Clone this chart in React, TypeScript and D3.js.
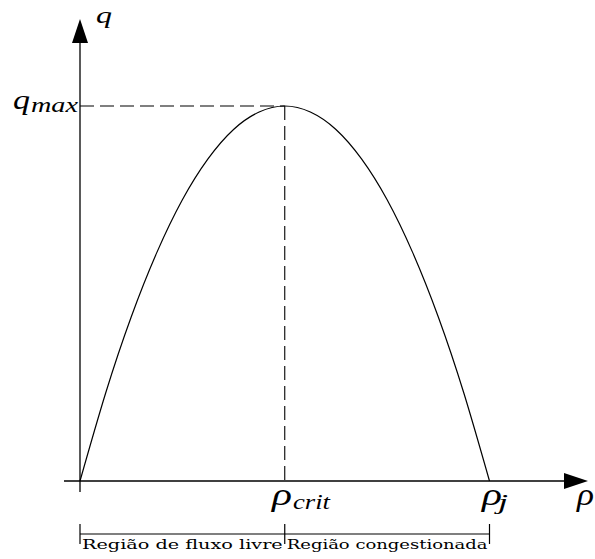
import React from "react";
import * as d3 from "d3";

// Fundamental diagram of traffic flow: flow q versus density ρ (normalised)
const densities = [0, 0.0625, 0.125, 0.1875, 0.25, 0.3125, 0.375, 0.4375, 0.5, 0.5625, 0.625, 0.6875, 0.75, 0.8125, 0.875, 0.9375, 1];
const flows = [0, 0.234, 0.4375, 0.609, 0.75, 0.859, 0.9375, 0.984, 1, 0.984, 0.9375, 0.859, 0.75, 0.609, 0.4375, 0.234, 0];
const rhoCrit = 0.5;
const rhoJam = 1;
const qMax = 1;
const regionLabels = ["Região de fluxo livre", "Região congestionada"];

const W = 595;
const H = 559;

export default function App() {
  const x = d3.scaleLinear().domain([0, 1]).range([80, 489.5]);
  const y = d3.scaleLinear().domain([0, 1]).range([481, 106]);

  const pts = densities.map((d, i) => [d, flows[i]] as [number, number]);
  const line = d3
    .line<[number, number]>()
    .x((d) => x(d[0]))
    .y((d) => y(d[1]))
    .curve(d3.curveNatural);

  const x0 = x(0);
  const xc = x(rhoCrit);
  const xj = x(rhoJam);
  const y0 = y(0);
  const yq = y(qMax);
  const bracketY = 534;
  const math = "'Liberation Serif', 'DejaVu Serif', serif";
  const roman = "'DejaVu Serif', serif";

  return (
    <svg width={W} height={H} style={{ position: "absolute", left: 0, top: 0, background: "#fff" }}>
      {/* axes */}
      <line x1={x0} y1={492} x2={x0} y2={40} stroke="#000" strokeWidth={1.3} />
      <path d={`M${x0},19 L${x0 - 8},43 L${x0 + 8},43 Z`} fill="#000" />
      <line x1={64} y1={y0} x2={566} y2={y0} stroke="#000" strokeWidth={1.3} />
      <path d={`M588,${y0} L564,${y0 - 8} L564,${y0 + 8} Z`} fill="#000" />

      {/* guides to the maximum */}
      <line x1={x0} y1={yq} x2={xc} y2={yq} stroke="#000" strokeWidth={1.1} strokeDasharray="14 6" />
      <line x1={xc} y1={yq} x2={xc} y2={y0} stroke="#000" strokeWidth={1.1} strokeDasharray="14 6" />

      {/* flow–density curve */}
      <path d={line(pts) ?? ""} fill="none" stroke="#000" strokeWidth={1.2} />

      {/* axis labels */}
      <g fontFamily={math} fontStyle="italic" fill="#000">
        <text x={96} y={23} fontSize={24} textLength={16} lengthAdjust="spacingAndGlyphs">q</text>
        <text x={13} y={109} fontSize={27} textLength={17} lengthAdjust="spacingAndGlyphs">q</text>
        <text x={31} y={112} fontSize={20} textLength={47} lengthAdjust="spacingAndGlyphs">max</text>
        <text x={272} y={505} fontSize={31} textLength={20} lengthAdjust="spacingAndGlyphs">ρ</text>
        <text x={293} y={509} fontSize={21} textLength={37} lengthAdjust="spacingAndGlyphs">crit</text>
        <text x={482} y={505} fontSize={31} textLength={20} lengthAdjust="spacingAndGlyphs">ρ</text>
        <text x={498} y={509} fontSize={21} textLength={10} lengthAdjust="spacingAndGlyphs">j</text>
        <text x={577} y={505} fontSize={31} textLength={17} lengthAdjust="spacingAndGlyphs">ρ</text>
      </g>

      {/* region brackets */}
      <g stroke="#000" strokeWidth={1.2}>
        <line x1={x0} y1={bracketY} x2={xj} y2={bracketY} />
        <line x1={x0} y1={524} x2={x0} y2={544} />
        <line x1={xc} y1={524} x2={xc} y2={544} />
        <line x1={xj} y1={524} x2={xj} y2={544} />
      </g>
      <text x={x0 + 2} y={549} fontFamily={roman} fontSize={12} textLength={xc - x0 - 4} lengthAdjust="spacingAndGlyphs">
        {regionLabels[0]}
      </text>
      <text x={xc + 2} y={549} fontFamily={roman} fontSize={12} textLength={xj - xc - 4} lengthAdjust="spacingAndGlyphs">
        {regionLabels[1]}
      </text>
    </svg>
  );
}
